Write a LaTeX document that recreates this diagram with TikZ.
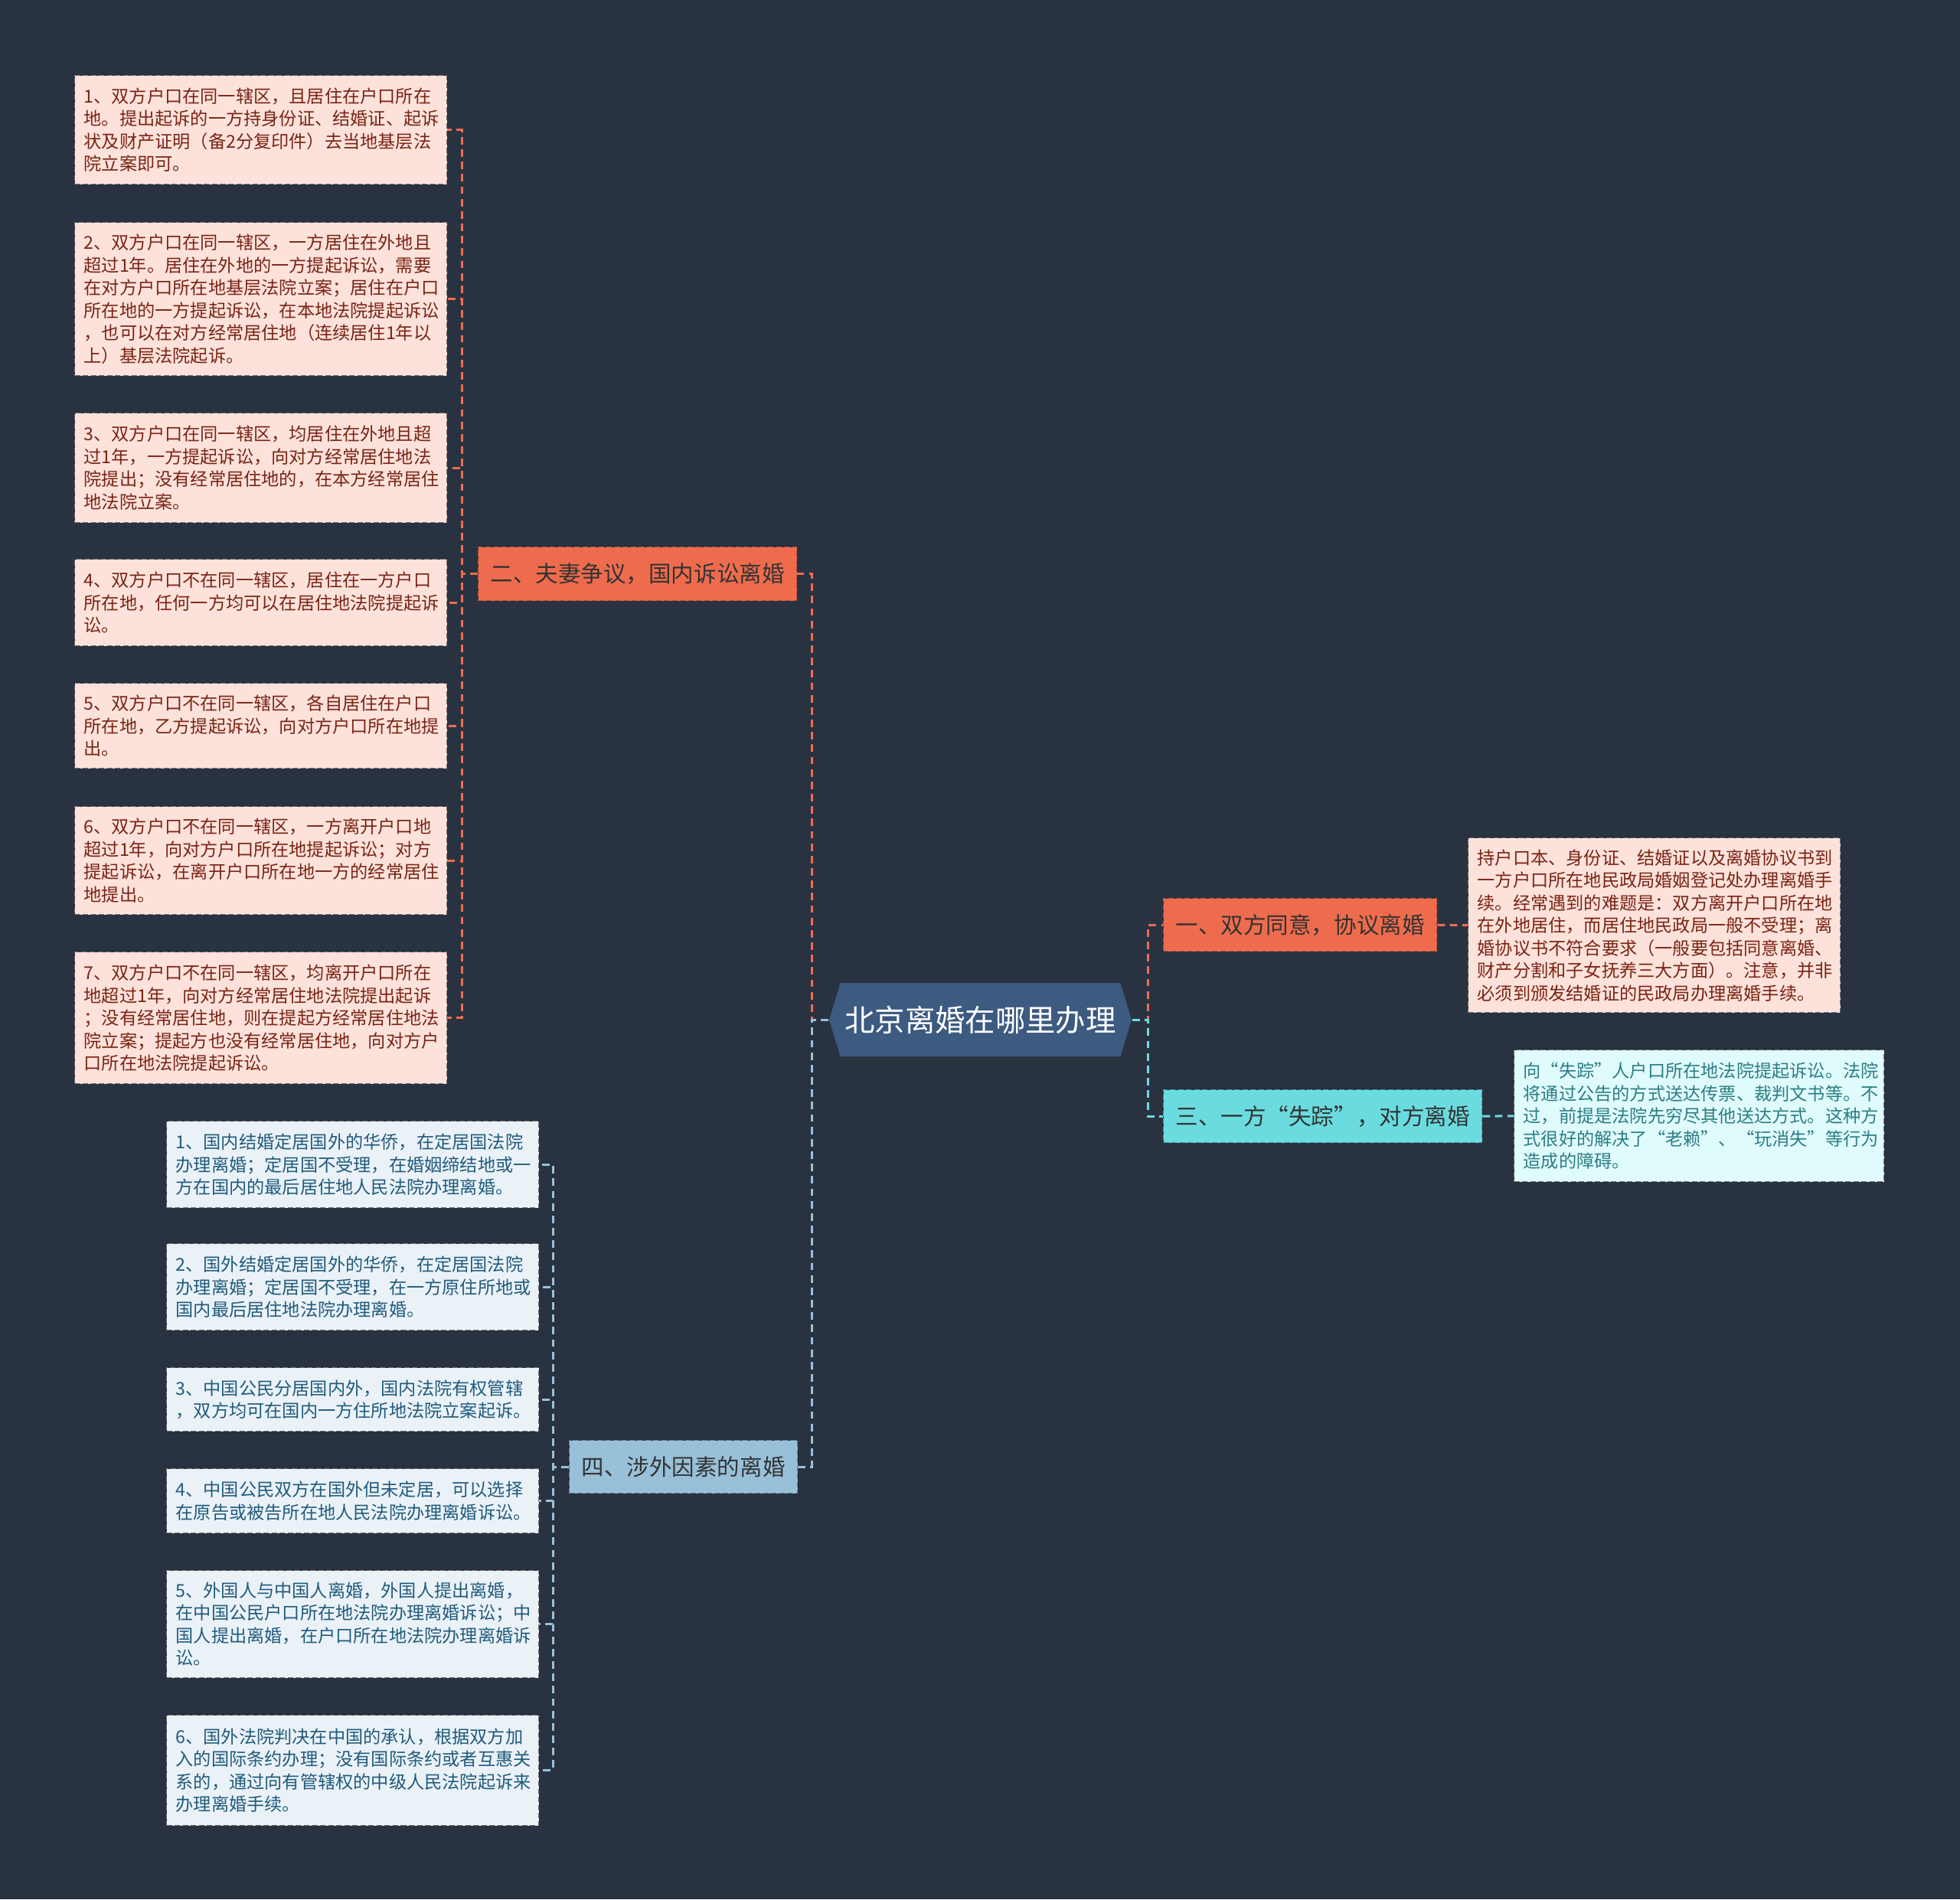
\documentclass[tikz,border=0pt]{standalone}
\usepackage{fontspec}
\setmainfont{Noto Sans CJK SC}
\usetikzlibrary{shapes.symbols}
\definecolor{bgdark}{HTML}{293241}
\definecolor{rootblue}{HTML}{3D5A80}
\definecolor{sienna}{HTML}{EE6C4D}
\definecolor{skyblue}{HTML}{98C1D9}
\definecolor{aqua}{HTML}{6ADCE0}
\definecolor{redleafbg}{HTML}{FCE2DB}
\definecolor{blueleafbg}{HTML}{EAF2F8}
\definecolor{aqualeafbg}{HTML}{E0FBFC}
\definecolor{redtxt}{HTML}{7A2414}
\definecolor{bluetxt}{HTML}{215B7C}
\definecolor{aquatxt}{HTML}{2B7D86}
\begin{document}
\begin{tikzpicture}[every node/.style={font=\fontsize{6.6}{8.4}\selectfont},
  leaf/.style={draw=black!55,dash pattern=on 2pt off 1pt,line width=0.4pt,anchor=north west,align=left,text width=4.62cm,inner xsep=0.12cm,inner ysep=0pt},
  redleaf/.style={leaf,fill=redleafbg,text=redtxt},
  blueleaf/.style={leaf,fill=blueleafbg,text=bluetxt},
  aqualeaf/.style={leaf,fill=aqualeafbg,text=aquatxt},
  branch/.style={anchor=north west,dash pattern=on 2pt off 1pt,line width=0.4pt,inner sep=0pt,font=\fontsize{8.4}{10}\selectfont},
  redline/.style={sienna,line width=0.85pt,dash pattern=on 2.8pt off 1.8pt},
  blueline/.style={skyblue,line width=0.85pt,dash pattern=on 2.8pt off 1.8pt},
  aqualine/.style={aqua,line width=0.85pt,dash pattern=on 2.8pt off 1.8pt}]
\fill[bgdark] (0,0) rectangle (25.6,-24.81);
% centre
\node[signal,signal to=west and east,signal pointer angle=146,fill=rootblue,text=white,minimum width=3.95cm,minimum height=0.96cm,inner sep=0pt,font=\fontsize{11.2}{13}\selectfont] (root) at (12.805,-13.32) {北京离婚在哪里办理};
% branches
\node[branch,fill=sienna,draw=sienna!75!black,text=black!80,minimum width=4.16cm,minimum height=0.70cm] (b2) at (6.24,-7.14) {二、夫妻争议，国内诉讼离婚};
\node[branch,fill=sienna,draw=sienna!75!black,text=black!80,minimum width=3.57cm,minimum height=0.69cm] (b1) at (15.19,-11.73) {一、双方同意，协议离婚};
\node[branch,fill=aqua,draw=aqua!70!black,text=black!80,minimum width=4.16cm,minimum height=0.69cm] (b3) at (15.19,-14.23) {三、一方“失踪”，对方离婚};
\node[branch,fill=skyblue,draw=skyblue!65!black,text=black!80,minimum width=2.98cm,minimum height=0.69cm] (b4) at (7.43,-18.81) {四、涉外因素的离婚};
% left, disputes
\node[redleaf,minimum height=1.42cm] (r1) at (0.97,-0.98) {1、双方户口在同一辖区，且居住在户口所在\\地。提出起诉的一方持身份证、结婚证、起诉\\状及财产证明（备2分复印件）去当地基层法\\院立案即可。};
\node[redleaf,minimum height=2.00cm] (r2) at (0.97,-2.90) {2、双方户口在同一辖区，一方居住在外地且\\超过1年。居住在外地的一方提起诉讼，需要\\在对方户口所在地基层法院立案；居住在户口\\所在地的一方提起诉讼，在本地法院提起诉讼\\，也可以在对方经常居住地（连续居住1年以\\上）基层法院起诉。};
\node[redleaf,minimum height=1.43cm] (r3) at (0.97,-5.39) {3、双方户口在同一辖区，均居住在外地且超\\过1年，一方提起诉讼，向对方经常居住地法\\院提出；没有经常居住地的，在本方经常居住\\地法院立案。};
\node[redleaf,minimum height=1.13cm] (r4) at (0.97,-7.30) {4、双方户口不在同一辖区，居住在一方户口\\所在地，任何一方均可以在居住地法院提起诉\\讼。};
\node[redleaf,minimum height=1.11cm] (r5) at (0.97,-8.92) {5、双方户口不在同一辖区，各自居住在户口\\所在地，乙方提起诉讼，向对方户口所在地提\\出。};
\node[redleaf,minimum height=1.41cm] (r6) at (0.97,-10.53) {6、双方户口不在同一辖区，一方离开户口地\\超过1年，向对方户口所在地提起诉讼；对方\\提起诉讼，在离开户口所在地一方的经常居住\\地提出。};
\node[redleaf,minimum height=1.72cm] (r7) at (0.97,-12.43) {7、双方户口不在同一辖区，均离开户口所在\\地超过1年，向对方经常居住地法院提出起诉\\；没有经常居住地，则在提起方经常居住地法\\院立案；提起方也没有经常居住地，向对方户\\口所在地法院提起诉讼。};
% left, foreign
\node[blueleaf,minimum height=1.13cm] (u1) at (2.17,-14.64) {1、国内结婚定居国外的华侨，在定居国法院\\办理离婚；定居国不受理，在婚姻缔结地或一\\方在国内的最后居住地人民法院办理离婚。};
\node[blueleaf,minimum height=1.13cm] (u2) at (2.17,-16.24) {2、国外结婚定居国外的华侨，在定居国法院\\办理离婚；定居国不受理，在一方原住所地或\\国内最后居住地法院办理离婚。};
\node[blueleaf,minimum height=0.83cm] (u3) at (2.17,-17.86) {3、中国公民分居国内外，国内法院有权管辖\\，双方均可在国内一方住所地法院立案起诉。};
\node[blueleaf,minimum height=0.84cm] (u4) at (2.17,-19.18) {4、中国公民双方在国外但未定居，可以选择\\在原告或被告所在地人民法院办理离婚诉讼。};
\node[blueleaf,minimum height=1.40cm] (u5) at (2.17,-20.51) {5、外国人与中国人离婚，外国人提出离婚，\\在中国公民户口所在地法院办理离婚诉讼；中\\国人提出离婚，在户口所在地法院办理离婚诉\\讼。};
\node[blueleaf,minimum height=1.44cm] (u6) at (2.17,-22.40) {6、国外法院判决在中国的承认，根据双方加\\入的国际条约办理；没有国际条约或者互惠关\\系的，通过向有管辖权的中级人民法院起诉来\\办理离婚手续。};
% right
\node[redleaf,text width=4.62cm,minimum height=2.28cm] (l1) at (19.17,-10.94) {持户口本、身份证、结婚证以及离婚协议书到\\一方户口所在地民政局婚姻登记处办理离婚手\\续。经常遇到的难题是：双方离开户口所在地\\在外地居住，而居住地民政局一般不受理；离\\婚协议书不符合要求（一般要包括同意离婚、\\财产分割和子女抚养三大方面）。注意，并非\\必须到颁发结婚证的民政局办理离婚手续。};
\node[aqualeaf,text width=4.59cm,minimum height=1.72cm] (l3) at (19.77,-13.71) {向“失踪”人户口所在地法院提起诉讼。法院\\将通过公告的方式送达传票、裁判文书等。不\\过，前提是法院先穷尽其他送达方式。这种方\\式很好的解决了“老赖”、“玩消失”等行为\\造成的障碍。};
% connectors
\draw[redline] (root.west) -- ++(-0.22,0) |- (b2.east);
\draw[blueline] (root.west) -- ++(-0.22,0) |- (b4.east);
\draw[redline] (root.east) -- ++(0.21,0) |- (b1.west);
\draw[aqualine] (root.east) -- ++(0.21,0) |- (b3.west);
\foreach \n in {r1,r2,r3,r4,r5,r6,r7} \draw[redline] (b2.west) -- ++(-0.21,0) |- (\n.east);
\foreach \n in {u1,u2,u3,u4,u5,u6} \draw[blueline] (b4.west) -- ++(-0.21,0) |- (\n.east);
\draw[redline] (b1.east) -- (l1.west);
\draw[aqualine] (b3.east) -- (l3.west);
\end{tikzpicture}
\end{document}
